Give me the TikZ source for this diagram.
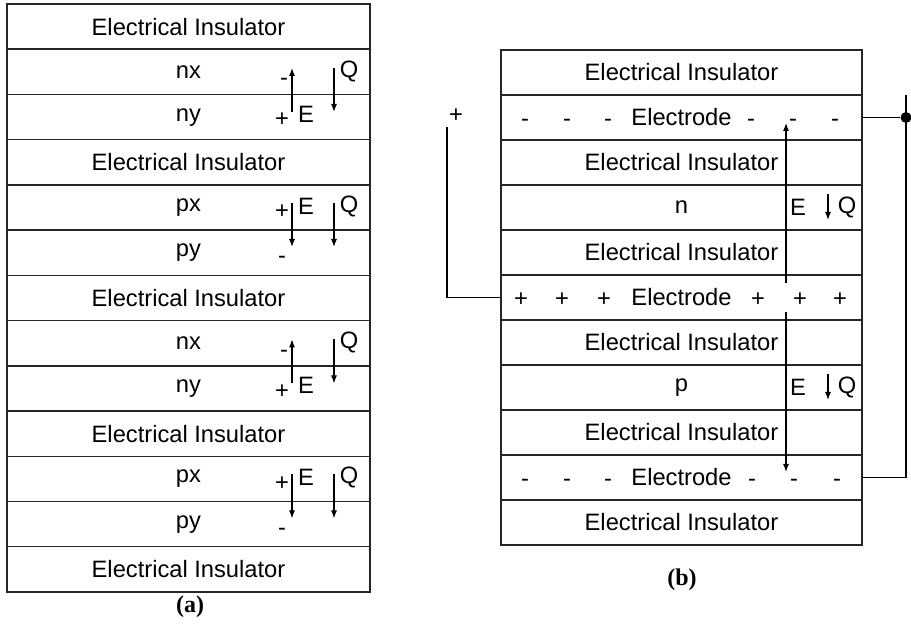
\documentclass[tikz,border=0pt]{standalone}
\usepackage{fontspec}
\setmainfont{Liberation Sans}
\newfontfamily\capfont{Liberation Serif}
\usetikzlibrary{arrows.meta, positioning}

\begin{document}
\begin{tikzpicture}[x=0.5pt, y=-0.5pt, >={Latex[length=4pt, width=3pt]}, font=\fontsize{11.85}{14}\selectfont,
  slab/.style={draw=black!85, line width=0.7pt, rectangle, inner sep=0pt, outer sep=0pt},
  colA/.style={slab, minimum width=181.5pt, minimum height=22.62pt},
  colB/.style={slab, minimum width=180.5pt, minimum height=22.5pt},
  sign/.style={inner sep=0pt},
  field/.style={->, line width=0.55pt},
  wire/.style={line width=0.55pt},
  caption/.style={font=\fontsize{12}{14}\selectfont\capfont\bfseries}]

  \useasboundingbox (0,0) rectangle (911,624);

  % Stack (a)
  \node (ins1) [colA] at (188.5, 26.6) {Electrical Insulator};
  \node (nx1) [colA] at (188.5, 71.8) {nx};
  \node (ny1) [colA] at (188.5, 117.1) {ny};
  \node (ins2) [colA] at (188.5, 162.3) {Electrical Insulator};
  \node (px1) [colA] at (188.5, 207.5) {px};
  \node (py1) [colA] at (188.5, 252.8) {py};
  \node (ins3) [colA] at (188.5, 298.0) {Electrical Insulator};
  \node (nx2) [colA] at (188.5, 343.2) {nx};
  \node (ny2) [colA] at (188.5, 388.4) {ny};
  \node (ins4) [colA] at (188.5, 433.7) {Electrical Insulator};
  \node (px2) [colA] at (188.5, 478.9) {px};
  \node (py2) [colA] at (188.5, 524.1) {py};
  \node (ins5) [colA] at (188.5, 569.4) {Electrical Insulator};

  % Signs and labels, stack (a)
  \node (mA1) [sign] at (284, 82) {-};
  \node (pA1) [sign] at (282, 120) {+};
  \node (eA1) [sign] at (306, 114) {E};
  \node (qA1) [sign] at (349, 71) {Q};
  \node (pA2) [sign] at (282, 212) {+};
  \node (mA2) [sign] at (282, 260) {-};
  \node (eA2) [sign] at (306, 206) {E};
  \node (qA2) [sign] at (349, 206) {Q};
  \node (mA3) [sign] at (284, 353.4) {-};
  \node (pA3) [sign] at (282, 391.4) {+};
  \node (eA3) [sign] at (306, 385.4) {E};
  \node (qA3) [sign] at (349, 342.4) {Q};
  \node (pA4) [sign] at (282, 483.4) {+};
  \node (mA4) [sign] at (282, 531.4) {-};
  \node (eA4) [sign] at (306, 477.4) {E};
  \node (qA4) [sign] at (349, 477.4) {Q};

  % Arrow ends, stack (a)
  \coordinate (fA1s) at (292, 112);   \coordinate (fA1t) at (292, 68);
  \coordinate (cA1s) at (334, 68);    \coordinate (cA1t) at (334, 112);
  \coordinate (fA2s) at (292, 203);   \coordinate (fA2t) at (292, 247);
  \coordinate (cA2s) at (334, 203);   \coordinate (cA2t) at (334, 247);
  \coordinate (fA3s) at (292, 383.4); \coordinate (fA3t) at (292, 339.4);
  \coordinate (cA3s) at (334, 339.4); \coordinate (cA3t) at (334, 383.4);
  \coordinate (fA4s) at (292, 474.4); \coordinate (fA4t) at (292, 518.4);
  \coordinate (cA4s) at (334, 474.4); \coordinate (cA4t) at (334, 518.4);

  \draw[field] (fA1s) -- (fA1t);
  \draw[field] (cA1s) -- (cA1t);
  \draw[field] (fA2s) -- (fA2t);
  \draw[field] (cA2s) -- (cA2t);
  \draw[field] (fA3s) -- (fA3t);
  \draw[field] (cA3s) -- (cA3t);
  \draw[field] (fA4s) -- (fA4t);
  \draw[field] (cA4s) -- (cA4t);

  % Stack (b)
  \node (insB1) [colB] at (681.5, 72.5) {Electrical Insulator};
  \node (topel) [colB] at (681.5, 117.5) {Electrode};
  \node (insB2) [colB] at (681.5, 162.5) {Electrical Insulator};
  \node (nlay) [colB] at (681.5, 207.5) {n};
  \node (insB3) [colB] at (681.5, 252.5) {Electrical Insulator};
  \node (midel) [colB] at (681.5, 297.5) {Electrode};
  \node (insB4) [colB] at (681.5, 342.5) {Electrical Insulator};
  \node (play) [colB] at (681.5, 387.5) {p};
  \node (insB5) [colB] at (681.5, 432.5) {Electrical Insulator};
  \node (botel) [colB] at (681.5, 477.5) {Electrode};
  \node (insB6) [colB] at (681.5, 522.5) {Electrical Insulator};

  % Electrode charges
  \node (tm1) [sign] at (525, 123) {-};
  \node (tm2) [sign] at (567, 123) {-};
  \node (tm3) [sign] at (608, 123) {-};
  \node (tm4) [sign] at (751, 123) {-};
  \node (tm5) [sign] at (793, 123) {-};
  \node (tm6) [sign] at (835, 123) {-};
  \node (mp1) [sign] at (521, 299.5) {+};
  \node (mp2) [sign] at (562, 299.5) {+};
  \node (mp3) [sign] at (604, 299.5) {+};
  \node (mp4) [sign] at (758, 299.5) {+};
  \node (mp5) [sign] at (800, 299.5) {+};
  \node (mp6) [sign] at (840, 299.5) {+};
  \node (bm1) [sign] at (525, 483) {-};
  \node (bm2) [sign] at (567, 483) {-};
  \node (bm3) [sign] at (608, 483) {-};
  \node (bm4) [sign] at (752, 483) {-};
  \node (bm5) [sign] at (794, 483) {-};
  \node (bm6) [sign] at (837, 483) {-};

  \node (eB1) [sign] at (798, 207) {E};
  \node (qB1) [sign] at (847, 207) {Q};
  \node (eB2) [sign] at (798, 387.5) {E};
  \node (qB2) [sign] at (847, 387.5) {Q};

  % Arrows, stack (b)
  \coordinate (fBus) at (786, 283); \coordinate (fBut) at (786, 123);
  \coordinate (fBds) at (786, 312); \coordinate (fBdt) at (786, 472);
  \coordinate (cB1s) at (828, 194); \coordinate (cB1t) at (828, 220);
  \coordinate (cB2s) at (828, 374); \coordinate (cB2t) at (828, 400);
  \draw[field] (fBus) -- (fBut);
  \draw[field] (fBds) -- (fBdt);
  \draw[field] (cB1s) -- (cB1t);
  \draw[field] (cB2s) -- (cB2t);

  % Wiring
  \coordinate (wl) at (447, 127);
  \coordinate (wt) at (906, 95);
  \coordinate (wb) at (906, 477.5);
  \node (plus) [sign] at (456, 116) {+};
  \node (jct) [circle, fill, inner sep=0pt, minimum size=5.5pt] at (906, 117.5) {};
  \draw[wire] (midel.west) -| (wl);
  \draw[wire] (topel.east) -- (jct);
  \draw[wire] (wt) -- (wb) -- (botel.east);

  % Captions
  \node (capa) [caption] at (190, 607) {(a)};
  \node (capb) [caption] at (682, 580) {(b)};
\end{tikzpicture}
\end{document}
